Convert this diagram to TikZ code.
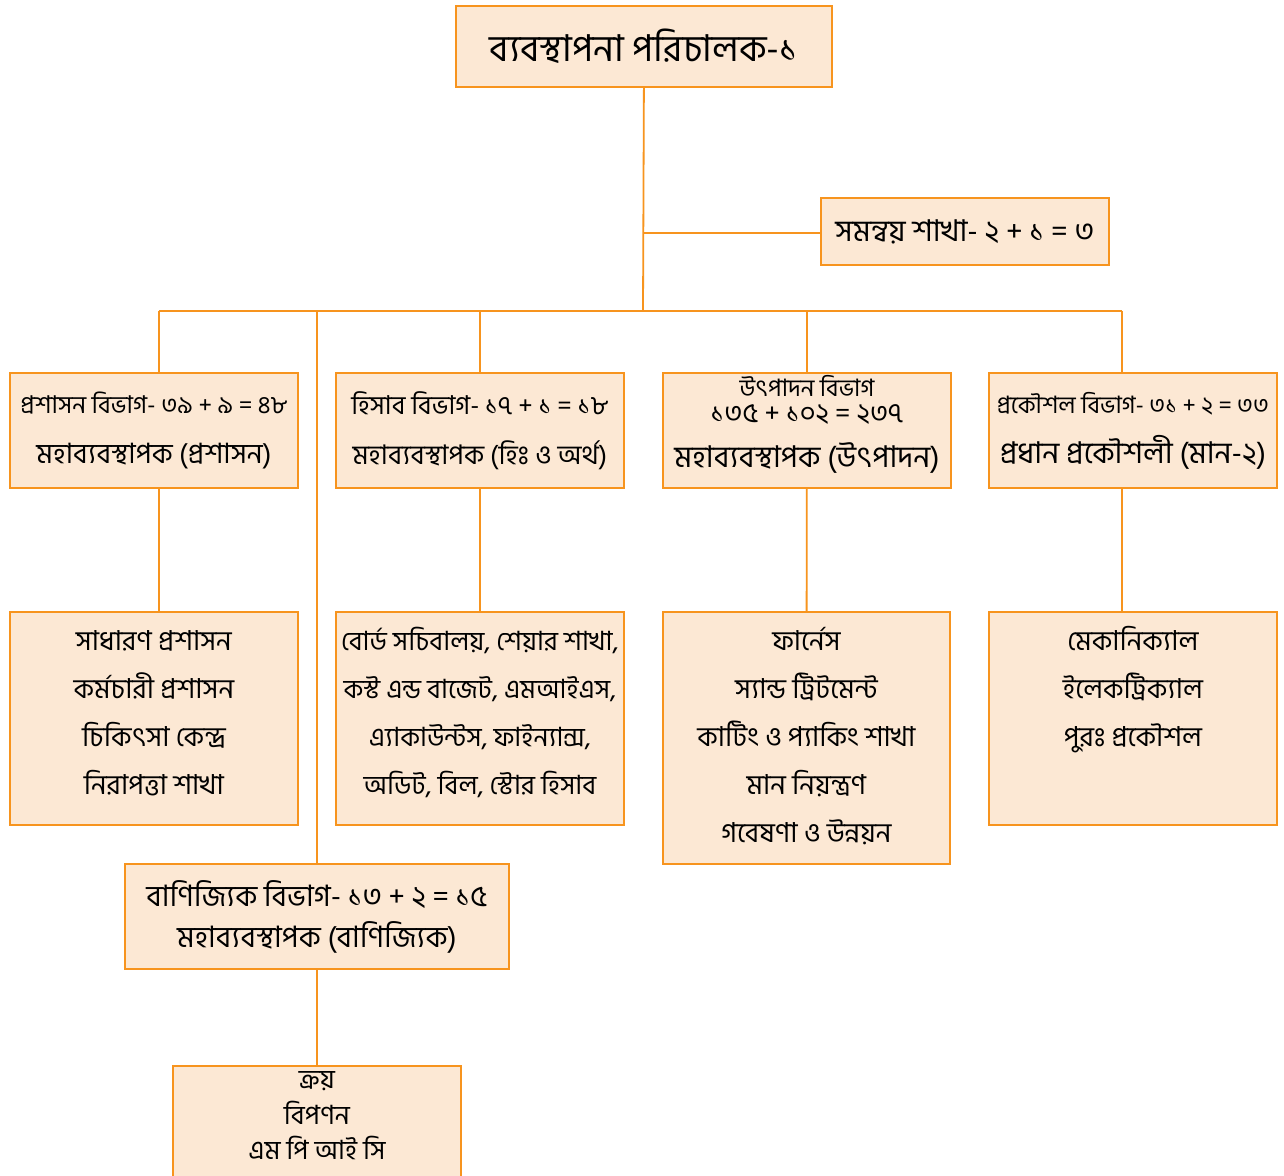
\documentclass[tikz,border=0pt]{standalone}
\usepackage{fontspec}
\setmainfont[Script=Bengali]{Hind Siliguri}
\usepackage{tikz}
\usetikzlibrary{positioning}
\definecolor{BoxFill}{HTML}{FCE8D4}
\definecolor{BoxLine}{HTML}{F7941E}
\newcommand{\liststrut}{\rule{0pt}{30pt}}
\newcommand{\fs}[1]{\fontsize{#1}{30}\selectfont}

\begin{document}
\begin{tikzpicture}[x=1pt, y=1pt, line width=1.8pt,
    unit/.style={draw=BoxLine, fill=BoxFill, anchor=north west, inner sep=0pt, align=center, font=\fontsize{28}{50}\selectfont},
    deptbox/.style={unit, minimum width=288pt, minimum height=115pt},
    listtxt/.style={align=center, inner sep=0pt, anchor=north, font=\fontsize{27.5}{48}\selectfont},
    link/.style={draw=BoxLine}]
    \clip (0,0) rectangle (1284,-1175);
    \fill[white] (0,0) rectangle (1284,-1175);

    % Top
    \node[unit, minimum width=376pt, minimum height=81pt, font=\fontsize{37}{40}\selectfont] (md) at (455,-5) {ব্যবস্থাপনা পরিচালক-১};
    \node[unit, minimum width=288pt, minimum height=67pt, font=\fontsize{30}{40}\selectfont] (sam) at (820,-197) {সমন্বয় শাখা- ২ + ১ = ৩};

    % Departments
    \node[deptbox] (adm) at (9,-372) {{\fs{24.5}প্রশাসন বিভাগ- ৩৯ + ৯ = ৪৮}\\ মহাব্যবস্থাপক (প্রশাসন)};
    \node[deptbox] (his) at (335,-372) {{\fs{26}হিসাব বিভাগ- ১৭ + ১ = ১৮}\\ {\fs{27}মহাব্যবস্থাপক (হিঃ ও অর্থ)}};
    \node[deptbox, font=\fontsize{24}{26}\selectfont] (utp) at (662,-372) {উৎপাদন বিভাগ\\ {\fs{27.5}১৩৫ + ১০২ = ২৩৭}\\[17pt] {\fs{30}মহাব্যবস্থাপক (উৎপাদন)\rule[-18pt]{0pt}{0pt}}};
    \node[deptbox] (eng) at (988,-372) {{\fs{24}প্রকৌশল বিভাগ- ৩১ + ২ = ৩৩}\\ {\fs{30}প্রধান প্রকৌশলী (মান-২)}};
    \node[unit, minimum width=384pt, minimum height=105pt, font=\fontsize{29.5}{41}\selectfont] (com) at (124,-863) {বাণিজ্যিক বিভাগ- ১৩ + ২ = ১৫\\ মহাব্যবস্থাপক (বাণিজ্যিক)};

    % Sections
    \node[unit, minimum width=288pt, minimum height=213pt] (admSec) at (9,-611) {};
    \node[unit, minimum width=288pt, minimum height=213pt] (hisSec) at (335,-611) {};
    \node[unit, minimum width=287pt, minimum height=252pt] (utpSec) at (662,-611) {};
    \node[unit, minimum width=288pt, minimum height=213pt] (engSec) at (988,-611) {};
    \node[unit, minimum width=288pt, minimum height=140pt] (comSec) at (172,-1065) {};

    \node[listtxt, below=9pt of admSec.north] (admText) {\liststrut সাধারণ প্রশাসন\\ কর্মচারী প্রশাসন\\ চিকিৎসা কেন্দ্র\\ নিরাপত্তা শাখা};
    \node[listtxt, below=9pt of hisSec.north, font=\fontsize{26.5}{48}\selectfont] (hisText) {\liststrut বোর্ড সচিবালয়, শেয়ার শাখা,\\ কস্ট এন্ড বাজেট, এমআইএস,\\ এ্যাকাউন্টস, ফাইন্যান্স,\\ অডিট, বিল, স্টোর হিসাব};
    \node[listtxt, below=9pt of utpSec.north] (utpText) {\liststrut ফার্নেস\\ স্যান্ড ট্রিটমেন্ট\\ কাটিং ও প্যাকিং শাখা\\ মান নিয়ন্ত্রণ\\ গবেষণা ও উন্নয়ন};
    \node[listtxt, below=9pt of engSec.north] (engText) {\liststrut মেকানিক্যাল\\ ইলেকট্রিক্যাল\\ পুরঃ প্রকৌশল};
    \node[listtxt, below=0pt of comSec.north, font=\fontsize{26.5}{35.5}\selectfont] (comText) {\rule{0pt}{23pt}ক্রয়\\ বিপণন\\ এম পি আই সি};

    % Lines
    \coordinate (hub) at (643,-311);
    \coordinate (samJoin) at (643,-233);
    \coordinate (busL) at (159,-311);
    \coordinate (busC) at (317,-311);
    \coordinate (busR) at (1122,-311);
    \draw[link] (md.south) -- (hub);
    \draw[link] (samJoin) -- (sam.west |- samJoin);
    \draw[link] (busL) -- (busR);
    \draw[link] (busL) -- (busL |- adm.north);
    \draw[link] (busC) -- (com);
    \draw[link] (his.north |- hub) -- (his);
    \draw[link] (utp.north |- hub) -- (utp);
    \draw[link] (busR) -- (busR |- eng.north);
    \draw[link] (busL |- adm.south) -- (busL |- admSec.north);
    \draw[link] (his) -- (hisSec);
    \draw[link] (utp) -- (utpSec);
    \draw[link] (busR |- eng.south) -- (busR |- engSec.north);
    \draw[link] (com) -- (comSec);
\end{tikzpicture}
\end{document}
